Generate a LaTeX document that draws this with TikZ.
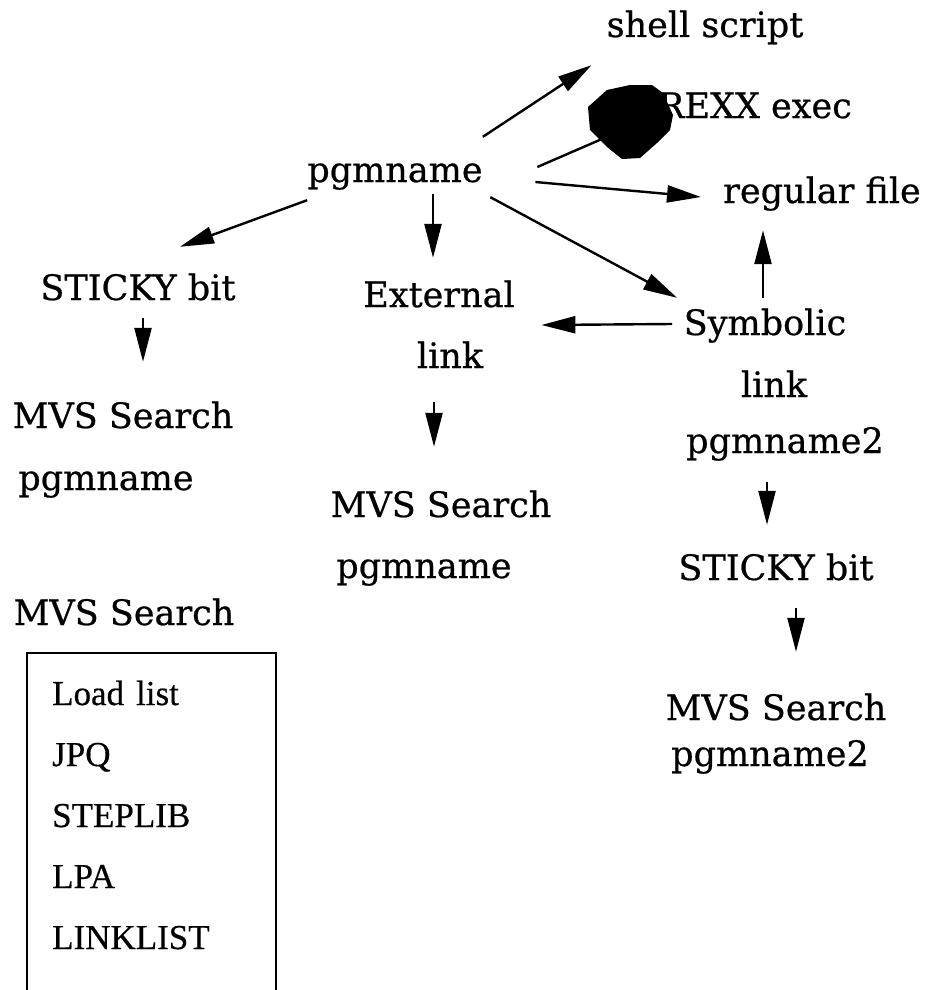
\documentclass[tikz,border=0pt]{standalone}
\usepackage{fontspec}
\newfontfamily\lblfont[FakeBold=0.6]{DejaVu Serif}
\newfontfamily\itemfont[FakeBold=0.5]{Liberation Serif}
\usetikzlibrary{arrows.meta}

\tikzset{
  lbl/.style={font={\lblfont\fontsize{35pt}{40pt}\selectfont}, inner sep=0pt,
    anchor=base, text height=26pt, text depth=8pt},
  item/.style={font={\itemfont\fontsize{35pt}{42pt}\selectfont}, inner sep=0pt, anchor=base west},
  arr/.style={-{Triangle[length=34pt,width=17pt]}, line width=2.4pt},
}

\begin{document}
\begin{tikzpicture}[x=1pt,y=-1pt]
\useasboundingbox (0,0) rectangle (934,990);

% Top row
\node[lbl] (pg) at (395,182) {pgmname};
\node[lbl] (sh) at (705,37) {shell script};
\node[lbl] (rx) at (755,118) {REXX exec};
\node[lbl] (rf) at (822,203) {regular file};

% Left column
\node[lbl] (st1) at (138,300) {STICKY bit};
\node[lbl] (mv1) at (123,428) {MVS Search};
\node[lbl] (pn1) at (106,490) {pgmname};

% Middle column
\node[lbl] (ex) at (439,307) {External};
\node[lbl] (lk1) at (450,368) {link};
\node[lbl] (mv2) at (441,517) {MVS Search};
\node[lbl] (pn2) at (424,578) {pgmname};

% Right column
\node[lbl] (sy) at (765,335) {Symbolic};
\node[lbl] (lk2) at (774,397) {link};
\node[lbl] (p2a) at (785,453) {pgmname2};
\node[lbl] (st2) at (776,580) {STICKY bit};
\node[lbl] (mv3) at (776,720) {MVS Search};
\node[lbl] (p2b) at (770,766) {pgmname2};

% Arrows out of pgmname
\draw[arr] ([shift={(0,-19)}]pg.north east) -- ([shift={(-15,20)}]sh.south west);
\draw[arr] ([shift={(54.5,-6)}]pg.east) -- ([shift={(-10,10)}]rx.west);
\draw[arr] ([shift={(52.5,9)}]pg.east) -- ([shift={(-22,3)}]rf.west);
\draw[arr] ([shift={(7.5,7)}]pg.south east) -- ([shift={(-6.5,-11)}]sy.north west);
\draw[arr] ([shift={(0,10)}]pg.south west) -- ([shift={(42,-27)}]st1.north);
\draw[arr] ([shift={(38,4)}]pg.south) -- ([shift={(-6,-23)}]ex.north);

% Symbolic link
\draw[arr] ([shift={(-11.5,-2)}]sy.west) -- ([shift={(26.5,27)}]ex.east);
\draw[arr] ([shift={(-2,-11)}]sy.north) -- ([shift={(-59,19)}]rf.south);

% Down arrows
\draw[arr] ([shift={(5,10)}]st1.south) -- ([shift={(20,-40)}]mv1.north);
\draw[arr] ([shift={(-16,26)}]lk1.south) -- ([shift={(-7,-44)}]mv2.north);
\draw[arr] ([shift={(-18,21)}]p2a.south) -- ([shift={(-9,-29)}]st2.north);
\draw[arr] ([shift={(20,20)}]st2.south) -- ([shift={(20,-42)}]mv3.north);

% Blot over the REXX arrow
\fill (588,107) -- (607,90) -- (630,85) -- (652,85) -- (663,93) -- (673,115)
  -- (670,130) -- (657,143) -- (640,158) -- (622,159) -- (607,147) -- (590,130) -- cycle;

% MVS Search order
\node[lbl] (mvt) at (124,625) {MVS Search};
\draw[line width=1.6pt] (27,992) -- (27,653) -- (276,653) -- (276,992);
\foreach \t [count=\i] in {Load\hspace{12pt}list, JPQ, STEPLIB, LPA, LINKLIST}
  \node[item] (ld\i) at (52,644+61*\i) {\t};

\end{tikzpicture}
\end{document}
